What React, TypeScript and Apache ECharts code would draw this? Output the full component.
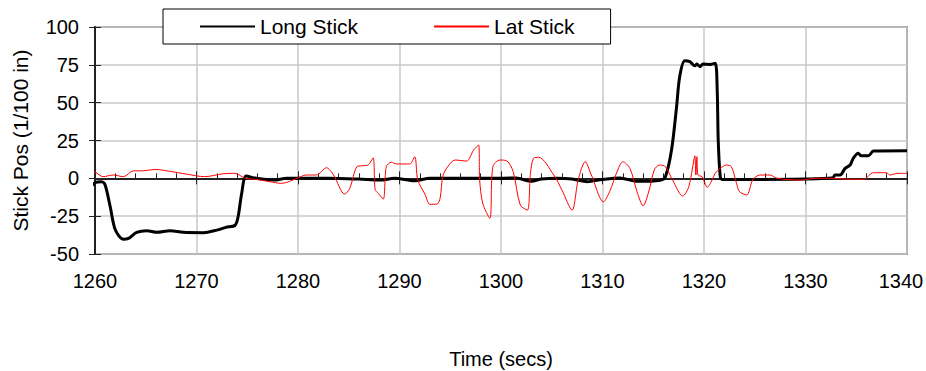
import React, { useEffect, useRef } from "react";
import * as echarts from "echarts";

const longTime = [1259.2, 1260, 1260.66, 1261, 1261.5, 1262, 1262.8, 1263.3, 1264.1, 1265.1, 1266.1, 1267.4, 1268.7, 1270.7, 1272, 1272.9, 1273.8, 1274.1, 1274.45, 1274.9, 1275.9, 1277.6, 1278.9, 1283, 1286, 1288.1, 1289.5, 1291.5, 1293, 1296, 1299, 1301.5, 1303, 1304, 1305.5, 1307, 1308.5, 1310, 1311.7, 1313.4, 1315.7, 1316.2, 1316.8, 1317.3, 1317.6, 1318.1, 1318.6, 1319.1, 1319.3, 1319.6, 1319.9, 1320.6, 1321.1, 1321.3, 1321.4, 1321.6, 1321.8, 1325, 1330, 1332.7, 1332.9, 1333.4, 1333.9, 1334.4, 1334.7, 1335.2, 1335.5, 1336.2, 1336.7, 1340];
const longPos = [-8.9, -2.9, -2.2, -4.4, -18.8, -34, -40.3, -39.7, -35.7, -34.6, -35.7, -34.6, -35.7, -35.9, -34.2, -32.4, -31, -25.4, -10, 1.5, 0, -1.1, 0, 0, -0.5, -1.1, 0, -1.6, 0, 0, 0, 0.2, -2, -0.5, 0, -0.5, -2.2, -0.7, 0.3, -2, -1.2, 1.1, 18.7, 47.3, 67, 77.7, 77.1, 74.4, 75.5, 73.8, 75.5, 75.3, 76, 58.4, 25.3, 1.1, -0.7, -0.7, -0.5, 0.4, 2.2, 2.2, 6.6, 8.8, 13.2, 16.5, 14.9, 14.9, 18, 18.2];

const latTime = [1259.2, 1260, 1260.8, 1261.8, 1262.8, 1263.8, 1264.8, 1265.9, 1267.4, 1269, 1270.8, 1272.6, 1273.8, 1274.8, 1275.9, 1277.2, 1278.4, 1279.9, 1280.8, 1281.8, 1282.8, 1283.5, 1284.6, 1285.1, 1285.8, 1286.3, 1286.9, 1287.4, 1287.6, 1287.9, 1288.4, 1288.7, 1289.2, 1289.7, 1291, 1291.5, 1291.8, 1292.5, 1293, 1293.7, 1294, 1294.3, 1295, 1295.5, 1296.6, 1297.3, 1297.8, 1297.9, 1298.2, 1298.9, 1299.2, 1299.9, 1300.6, 1301.2, 1301.9, 1302.6, 1302.9, 1303.2, 1303.7, 1305.2, 1306, 1307, 1307.6, 1308.3, 1308.9, 1310.1, 1310.7, 1311.5, 1312, 1312.7, 1313.4, 1314, 1314.6, 1315.1, 1315.6, 1316.2, 1316.9, 1317.9, 1318.5, 1319, 1319.1, 1319.2, 1319.3, 1319.4, 1319.8, 1320.1, 1320.3, 1320.8, 1321.1, 1321.6, 1322.2, 1322.7, 1323.2, 1323.5, 1324.2, 1324.8, 1325.5, 1326.5, 1327.2, 1329.5, 1331, 1332.8, 1334, 1335.7, 1336.7, 1338, 1338.3, 1339.1, 1340];
const latPos = [4.4, 4, 1.1, 2.2, 1.1, 5, 5, 5.9, 4.6, 2.8, 1.1, 3, 3.3, 0, -0.7, -2.2, -3.3, 0, 2.2, 2.2, 7, 2.2, -10.4, -6.6, 7.7, 8.3, 8.8, 13.6, -7.3, -9.9, -13.7, 7.7, 10.6, 9.5, 9.5, 14.3, -1.1, -10.4, -17.2, -17, -13.2, 2.2, 9.9, 12.1, 11.4, 18.7, 22, -1.1, -16.5, -26.4, 7.7, 12.1, 11.4, 4.4, -17.6, -21, 3.3, 13.2, 13.9, 2.2, -7.7, -21, -1.1, 11, 2.2, -15.5, -8.8, 5.5, 11, 6.6, -8.8, -18.1, -7.7, 5.5, 8.8, 7.7, -1.1, -11.7, -5.5, 12.1, 14.9, 2.2, 14.3, 2.2, 1.1, -3.3, -6, -1.1, 3.3, 6.6, 8.8, 7.7, -3.3, -8.8, -11, -1.1, 2.2, 2.2, 0, -1.1, 0, 0, -0.5, -0.7, 3.7, 3.7, 2.2, 3.3, 3.3];

const seriesNames = ["Long Stick", "Lat Stick"];
const xTitle = "Time (secs)";
const yTitle = "Stick Pos (1/100 in)";

const FONT = "'Liberation Sans', Arial, sans-serif";

export default function App() {
  const ref = useRef<HTMLDivElement>(null);
  useEffect(() => {
    if (!ref.current) return;
    const chart = echarts.init(ref.current, undefined, { renderer: "svg" });
    const zip = (t: number[], v: number[]) => t.map((x, i) => [x, v[i]]);
    const baseX = { type: "value", min: 1260, max: 1340, interval: 10 };
    const baseY = { type: "value", min: -50, max: 100, interval: 25 };
    chart.setOption({
      animation: false,
      backgroundColor: "#fff",
      textStyle: { fontFamily: FONT },
      grid: {
        left: 95, right: 19, top: 27, bottom: 117,
        outerBoundsMode: "none", containLabel: false,
        show: true, borderColor: "#808080", borderWidth: 2,
      },
      legend: {
        left: 163, top: 9,
        padding: [7, 36, 7, 36],
        itemGap: 75, itemWidth: 55, itemHeight: 14,
        borderColor: "#000", borderWidth: 1, backgroundColor: "#fff",
        itemStyle: { opacity: 0 },
        textStyle: { fontSize: 21, color: "#000", fontFamily: FONT },
        data: seriesNames,
      },
      xAxis: [
        {
          ...baseX,
          name: xTitle, nameLocation: "middle", nameGap: 95,
          nameTextStyle: { fontSize: 20, color: "#000", fontFamily: FONT },
          axisLine: { lineStyle: { color: "#222", width: 2 } },
          axisTick: { inside: true, length: 7, lineStyle: { color: "#222" } },
          minorTick: { show: true, splitNumber: 5, length: 5, lineStyle: { color: "#222" } },
          axisLabel: {
            fontSize: 20, color: "#000", margin: 17, fontFamily: FONT,
            formatter: (v: number) => (v === 1340 ? "{r|" + v + "}" : String(v)),
            rich: { r: { fontSize: 20, fontFamily: FONT, color: "#000", padding: [0, 12, 0, 0] } },
          },
          splitLine: { lineStyle: { color: "#c8c8c8", width: 1.5 } },
        },
        {
          ...baseX, position: "bottom",
          axisLine: { show: false },
          axisTick: { inside: false, length: 6, lineStyle: { color: "#222" } },
          axisLabel: { show: false }, splitLine: { show: false },
        },
      ],
      yAxis: [
        {
          ...baseY,
          name: yTitle, nameLocation: "middle", nameGap: 64,
          nameTextStyle: { fontSize: 21, color: "#000", fontFamily: FONT },
          axisLine: { show: true, lineStyle: { color: "#222", width: 2 } },
          axisTick: { show: true, inside: false, length: 6, lineStyle: { color: "#222" } },
          axisLabel: { fontSize: 20, color: "#000", margin: 16, fontFamily: FONT, formatter: (v: number) => String(v) },
          splitLine: { lineStyle: { color: "#c8c8c8", width: 1.5 } },
        },
        {
          ...baseY, position: "left",
          axisLine: { show: false },
          axisTick: { show: true, inside: true, length: 6, lineStyle: { color: "#222" } },
          axisLabel: { show: false }, splitLine: { show: false },
        },
      ],
      series: [
        {
          name: seriesNames[0], type: "line", data: zip(longTime, longPos),
          xAxisIndex: 0, yAxisIndex: 0, showSymbol: false, symbol: "none",
          smooth: 0.3, clip: false, z: 3,
          lineStyle: { color: "#000", width: 3 }, itemStyle: { color: "#000" },
        },
        {
          name: seriesNames[1], type: "line", data: zip(latTime, latPos),
          xAxisIndex: 0, yAxisIndex: 0, showSymbol: false, symbol: "none",
          smooth: 0.3, clip: false, z: 4,
          lineStyle: { color: "#ff0000", width: 1 }, itemStyle: { color: "#ff0000" },
        },
      ],
    });
    return () => chart.dispose();
  }, []);
  return (
    <div
      ref={ref}
      style={{ position: "fixed", left: 0, top: 0, width: 926, height: 371 }}
    />
  );
}
